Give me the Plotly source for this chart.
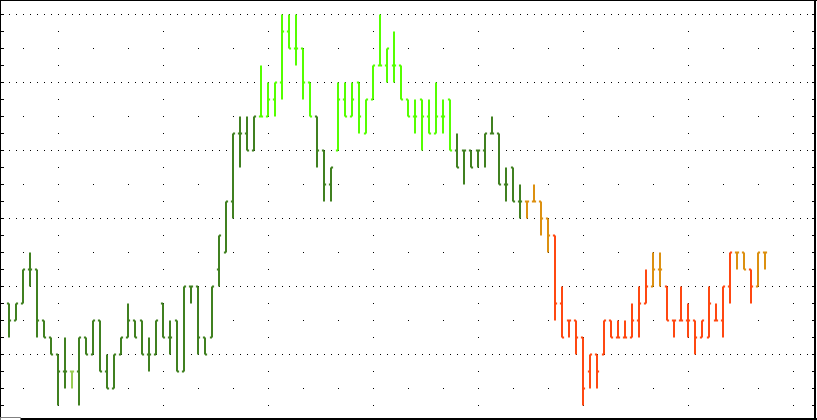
import plotly.graph_objects as go

# Bar number along the time axis (one bar per period)
bars = list(range(109))

# Prices in chart points (each grid tick step = 1 point)
opens = [6, 5, 6, 8, 8, 5, 4, 3, 2, 2,
         2, 4, 3, 5, 2, 1, 3, 4, 5, 5,
         3, 3, 6, 4, 5, 2, 7, 7, 4, 4,
         8, 9, 12, 16, 16, 15, 17, 17, 18, 19,
         22, 21, 21, 19, 17, 15, 13, 15, 18, 17,
         19, 16, 18, 20, 20, 20, 20, 18, 17, 18,
         17, 16, 17, 18, 15, 15, 15, 15, 15, 16,
         16, 13, 14, 12, 12, 12, 12, 11, 10, 6,
         5, 5, 4, 2, 3, 3, 5, 4, 4, 4,
         5, 6, 7, 8, 7, 5, 5, 5, 5, 4,
         4, 5, 5, 7, 9, 9, 8, 7, 9]
highs = [6, 6, 8, 9, 8, 5, 4, 3, 4, 2,
         4, 4, 5, 5, 3, 3, 4, 6, 5, 5,
         4, 5, 6, 5, 5, 7, 7, 7, 4, 7,
         10, 12, 16, 17, 17, 17, 20, 19, 19, 23,
         23, 23, 21, 19, 17, 15, 14, 19, 19, 19,
         19, 18, 20, 23, 21, 22, 20, 18, 18, 18,
         18, 19, 18, 18, 16, 15, 15, 15, 16, 17,
         16, 14, 14, 13, 12, 13, 12, 11, 10, 7,
         5, 5, 4, 3, 3, 5, 5, 5, 5, 6,
         7, 8, 9, 9, 7, 5, 7, 6, 5, 5,
         7, 6, 7, 9, 9, 9, 8, 9, 9]
lows = [4, 5, 6, 7, 4, 4, 3, 0, 1, 1,
        0, 3, 3, 2, 1, 1, 3, 4, 4, 3,
        2, 3, 4, 3, 2, 2, 6, 3, 3, 4,
        7, 9, 11, 14, 15, 15, 17, 17, 17, 18,
        21, 20, 18, 17, 14, 12, 12, 15, 17, 17,
        16, 16, 18, 20, 19, 19, 18, 17, 16, 15,
        16, 16, 16, 15, 14, 13, 14, 14, 14, 16,
        13, 12, 12, 11, 11, 12, 10, 9, 5, 4,
        4, 3, 0, 1, 1, 3, 4, 4, 4, 4,
        4, 6, 7, 7, 5, 4, 5, 4, 3, 4,
        4, 5, 4, 6, 8, 8, 6, 7, 8]
closes = [5, 6, 8, 8, 5, 4, 3, 2, 2, 2,
          4, 3, 5, 2, 1, 3, 4, 5, 4, 3,
          3, 5, 4, 4, 2, 7, 7, 4, 3, 7,
          10, 12, 16, 16, 15, 17, 17, 18, 19, 22,
          21, 21, 19, 17, 15, 13, 14, 18, 17, 18,
          17, 18, 20, 20, 21, 20, 18, 17, 17, 17,
          16, 17, 17, 15, 14, 15, 14, 15, 16, 16,
          13, 13, 12, 12, 12, 12, 11, 10, 6, 4,
          5, 4, 1, 3, 2, 5, 4, 4, 4, 5,
          6, 7, 8, 8, 5, 5, 5, 5, 4, 5,
          6, 5, 7, 9, 9, 8, 7, 9, 9]

# Trend state of each bar (drives the bar colour)
trend = list("DDDDDDDDDL"
             "DDDDDDDDDDDDDDDDDDDDDDDDDD"
             "BBBBBBBB"
             "DDD"
             "BBBBBBBBBBBBBBBBB"
             "DDDDDDDDDD"
             "OOOO"
             "RRRRRRRRRRRRRR"
             "OO"
             "RRRRRRRRRR"
             "OO"
             "R"
             "OO")

trend_colors = {"D": "#408020", "L": "#99cc55", "B": "#55ff00",
                "O": "#dc9010", "R": "#ff4811"}

assert len(opens) == len(highs) == len(lows) == len(closes) == len(trend) == len(bars)

fig = go.Figure()
for code, color in trend_colors.items():
    idx = [i for i, t in enumerate(trend) if t == code]
    fig.add_trace(go.Ohlc(
        x=[bars[i] for i in idx],
        open=[opens[i] for i in idx],
        high=[highs[i] for i in idx],
        low=[lows[i] for i in idx],
        close=[closes[i] for i in idx],
        increasing=dict(line=dict(color=color, width=2)),
        decreasing=dict(line=dict(color=color, width=2)),
        tickwidth=0.3,
        showlegend=False,
        hoverinfo="skip",
    ))

W, H = 817, 420
ML, MR, MT, MB = 1, 2, 1, 2
PW, PH = W - ML - MR, H - MT - MB


def px_x(px):
    return (px - ML) / PW


def px_y(py):
    return (H - MB - py) / PH


shapes = [
    dict(type="line", xref="paper", yref="paper", x0=px_x(0), x1=px_x(W), y0=px_y(0.5), y1=px_y(0.5),
         line=dict(color="black", width=1)),
    dict(type="line", xref="paper", yref="paper", x0=px_x(0.5), x1=px_x(0.5), y0=px_y(0), y1=px_y(H),
         line=dict(color="black", width=1)),
    dict(type="line", xref="paper", yref="paper", x0=px_x(815), x1=px_x(815), y0=px_y(0), y1=px_y(H),
         line=dict(color="black", width=2)),
    dict(type="line", xref="paper", yref="paper", x0=px_x(0), x1=px_x(W), y0=px_y(419), y1=px_y(419),
         line=dict(color="black", width=2)),
    dict(type="rect", xref="paper", yref="paper", x0=px_x(0.5), x1=px_x(20.5), y0=px_y(417.5), y1=px_y(426),
         line=dict(color="#808080", width=1), fillcolor="white"),
]

fig.update_layout(
    width=W, height=H,
    margin=dict(l=ML, r=MR, t=MT, b=MB, pad=0),
    paper_bgcolor="white", plot_bgcolor="white",
    showlegend=False,
    shapes=shapes,
    xaxis=dict(
        range=[-8 / 7, -8 / 7 + PW / 7],
        rangeslider=dict(visible=False),
        showticklabels=False, ticks="", zeroline=False, showline=False,
        tick0=7 + 0.5 / 7, dtick=15,
        showgrid=True, gridcolor="black", gridwidth=1, griddash="0px,13px,1px,3px",
        minor=dict(tick0=2 + 0.5 / 7, dtick=5, showgrid=True, gridcolor="black", gridwidth=1,
                   griddash="0px,13px,1px,20px", ticks=""),
        fixedrange=True,
    ),
    yaxis=dict(
        range=[(405.5 - (H - MB)) / 17, (405.5 - MT) / 17],
        showticklabels=False, zeroline=False, showline=False,
        tick0=3, dtick=4,
        ticks="inside", ticklen=3, tickwidth=1, tickcolor="black", mirror="ticks",
        showgrid=True, gridcolor="black", gridwidth=1, griddash="0px,1px,1px,5px",
        minor=dict(tick0=0, dtick=1, ticks="inside", ticklen=3, tickwidth=1, tickcolor="black",
                   showgrid=False),
        fixedrange=True,
    ),
)

fig.write_html(
    "out.html",
    config={"displayModeBar": False},
    post_script="document.body.style.margin='0';document.body.style.overflow='hidden';",
)
